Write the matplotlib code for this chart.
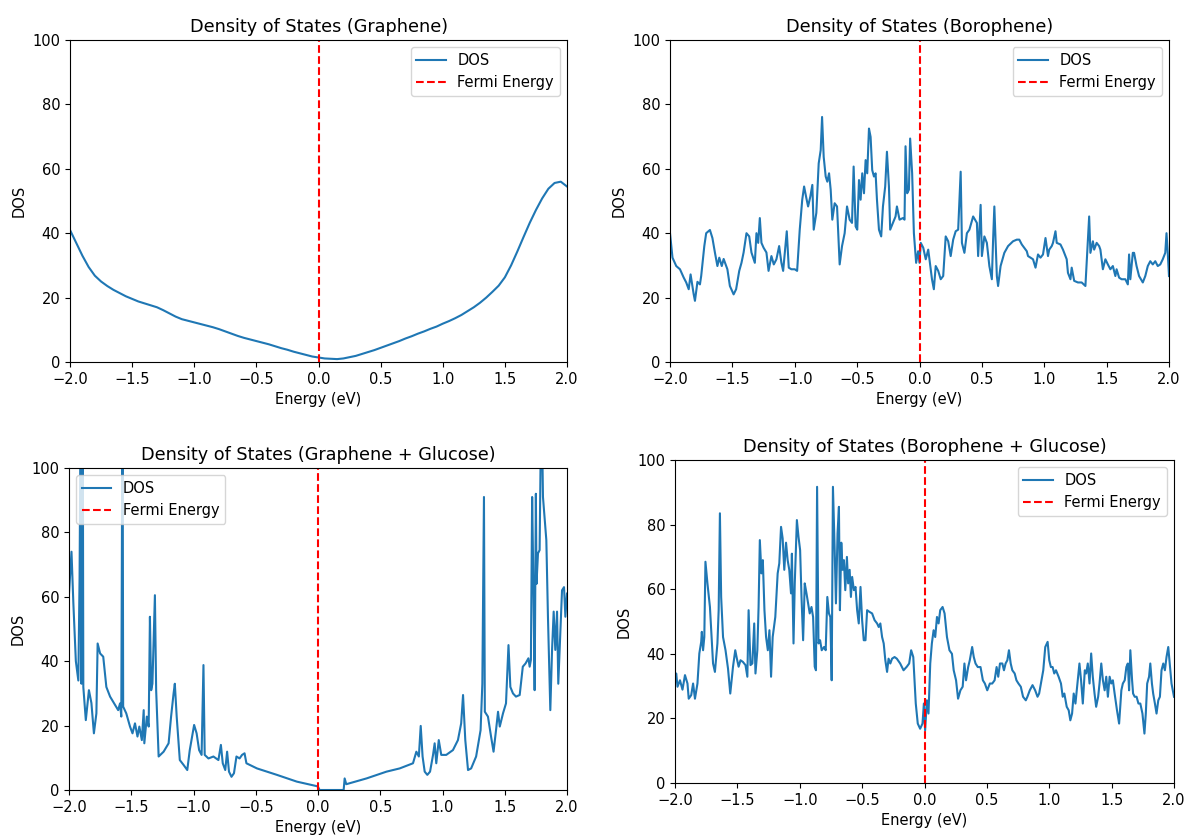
import matplotlib
matplotlib.use('Agg')
from matplotlib import pyplot as plt

# energies (eV) and DOS values
e_gr = [-2.0, -1.95, -1.9, -1.85, -1.8, -1.75, -1.7, -1.65, -1.6, -1.55, -1.5, -1.45, -1.4,
        -1.35, -1.3, -1.25, -1.2, -1.15, -1.1, -1.05, -1.0, -0.95, -0.9, -0.85, -0.8, -0.75,
        -0.7, -0.65, -0.6, -0.55, -0.5, -0.45, -0.4, -0.35, -0.3, -0.25, -0.2, -0.15, -0.1,
        -0.05, 0.0, 0.05, 0.1, 0.15, 0.2, 0.25, 0.3, 0.35, 0.4, 0.45, 0.5, 0.55, 0.6, 0.65,
        0.7, 0.75, 0.8, 0.85, 0.9, 0.95, 1.0, 1.05, 1.1, 1.15, 1.2, 1.25, 1.3, 1.35, 1.4,
        1.45, 1.5, 1.55, 1.6, 1.65, 1.7, 1.75, 1.8, 1.85, 1.9, 1.95, 2.0]
dos_gr = [41.0, 37.0, 33.0, 29.5, 26.8, 25.0, 23.6, 22.4, 21.4, 20.4, 19.6, 18.8, 18.2,
          17.6, 17.0, 16.1, 15.1, 14.1, 13.3, 12.8, 12.3, 11.8, 11.3, 10.8, 10.2, 9.5,
          8.8, 8.1, 7.5, 7.0, 6.5, 6.0, 5.5, 4.9, 4.3, 3.8, 3.2, 2.7, 2.2, 1.7,
          1.4, 1.1, 1.0, 0.9, 1.1, 1.5, 1.9, 2.5, 3.1, 3.7, 4.4, 5.1, 5.8, 6.5,
          7.3, 8.0, 8.8, 9.5, 10.3, 11.0, 11.9, 12.7, 13.6, 14.6, 15.8, 17.0, 18.4, 20.0, 21.8,
          23.7, 26.3, 30.0, 34.3, 38.8, 43.2, 47.2, 50.8, 53.8, 55.6, 56.0, 54.5]

e_bo = [-2.0, -1.98, -1.95, -1.92, -1.89, -1.87, -1.85, -1.835, -1.81, -1.8, -1.78, -1.76,
        -1.75, -1.725, -1.71, -1.68, -1.66, -1.64, -1.62, -1.605, -1.585, -1.57, -1.54,
        -1.52, -1.49, -1.47, -1.445, -1.427, -1.41, -1.387, -1.365, -1.347, -1.32, -1.307,
        -1.293, -1.28, -1.267, -1.25, -1.227, -1.21, -1.187, -1.168, -1.147, -1.125, -1.107,
        -1.093, -1.075, -1.064, -1.048, -1.027, -1.0, -0.981, -0.96, -0.94, -0.925, -0.907,
        -0.893, -0.875, -0.859, -0.848, -0.827, -0.808, -0.792, -0.781, -0.768, -0.752,
        -0.739, -0.725, -0.712, -0.699, -0.68, -0.661, -0.64, -0.621, -0.6, -0.581, -0.56,
        -0.541, -0.528, -0.512, -0.499, -0.485, -0.472, -0.459, -0.445, -0.432, -0.419,
        -0.405, -0.392, -0.379, -0.365, -0.352, -0.341, -0.325, -0.307, -0.293, -0.275,
        -0.261, -0.245, -0.235, -0.213, -0.192, -0.181, -0.16, -0.133, -0.12, -0.112,
        -0.099, -0.085, -0.075, -0.059, -0.045, -0.027, -0.011, 0.0, 0.01, 0.03, 0.05,
        0.07, 0.09, 0.10, 0.115, 0.13, 0.15, 0.17, 0.19, 0.21, 0.23, 0.25, 0.27, 0.29,
        0.31, 0.33, 0.34, 0.36, 0.38, 0.40, 0.43, 0.46, 0.47, 0.49, 0.50, 0.52, 0.54,
        0.56, 0.58, 0.59, 0.60, 0.62, 0.63, 0.65, 0.68, 0.71, 0.75, 0.78, 0.80, 0.82,
        0.86, 0.87, 0.91, 0.93, 0.95, 0.97, 0.99, 1.01, 1.03, 1.04, 1.06, 1.07, 1.09,
        1.10, 1.13, 1.15, 1.18, 1.19, 1.21, 1.22, 1.24, 1.27, 1.30, 1.33, 1.34, 1.36,
        1.37, 1.39, 1.40, 1.42, 1.44, 1.45, 1.47, 1.49, 1.51, 1.53, 1.55, 1.57, 1.58,
        1.60, 1.62, 1.65, 1.67, 1.68, 1.69, 1.71, 1.72, 1.74, 1.76, 1.79, 1.81, 1.83,
        1.85, 1.87, 1.89, 1.91, 1.93, 1.95, 1.97, 1.98, 1.99, 2.0]
dos_bo = [40.0, 32.4, 29.8, 28.8, 26.2, 24.7, 22.6, 27.2, 21.0, 19.0, 24.9, 24.1,
          26.7, 36.0, 40.0, 41.0, 38.5, 34.0, 29.8, 32.4, 29.8, 32.0, 28.8,
          23.6, 21.0, 22.6, 28.3, 30.8, 34.0, 40.0, 39.0, 34.0, 30.8, 40.0,
          37.0, 44.7, 37.0, 35.5, 34.0, 28.3, 32.9, 30.3, 31.9, 36.0, 30.8,
          28.3, 36.0, 40.6, 29.3, 28.8, 28.8, 28.3, 41.1, 50.4, 54.5, 50.9,
          48.3, 51.4, 55.0, 41.1, 46.3, 61.7, 65.8, 76.1, 63.7, 57.6,
          56.0, 58.6, 53.5, 44.2, 49.3, 48.3, 30.3, 36.0, 40.0, 48.3, 44.2,
          43.2, 60.7, 42.1, 41.1, 56.5, 50.4, 58.6, 52.4, 62.7, 58.6,
          72.5, 69.9, 59.6, 57.6, 58.6, 50.4, 41.1, 39.0, 48.3, 54.5,
          65.3, 54.5, 41.1, 43.2, 45.2, 48.3, 44.2, 44.7, 44.2, 67.0,
          52.4, 53.5, 69.4, 58.6, 40.0, 30.8, 34.4, 30.8, 37.0, 35.5, 31.9,
          34.9, 28.8, 25.7, 22.6, 29.8, 28.3, 25.7, 26.7, 39.0, 37.5, 32.9, 38.0, 40.6,
          41.1, 59.1, 37.0, 33.9, 40.0, 41.1, 45.2, 43.2, 32.9, 48.8, 32.9, 39.0, 37.0,
          29.8, 25.7, 38.0, 48.3, 26.7, 23.6, 29.8, 33.9, 36.0, 37.5, 38.0, 38.0, 36.5,
          34.4, 32.9, 31.9, 29.3, 33.4, 32.4, 33.4, 38.5, 32.9, 34.9, 36.0, 37.0, 40.6,
          37.0, 36.5, 34.9, 31.9, 27.7, 25.7, 29.3, 25.2, 24.7, 24.7, 23.6, 30.8, 45.2,
          33.9, 37.5, 34.9, 37.0, 36.0, 34.9, 28.8, 31.9, 30.3, 28.8, 29.8, 26.7, 28.8,
          26.2, 25.7, 25.7, 24.1, 33.4, 25.7, 33.9, 33.9, 29.8, 26.7, 24.7, 26.7, 29.8,
          31.3, 30.3, 31.3, 29.8, 30.3, 31.9, 33.9, 40.0, 33.9, 26.7]

e_grg = [-2.0, -1.98, -1.965, -1.945, -1.925, -1.915, -1.905, -1.90, -1.89, -1.885,
         -1.865, -1.84, -1.82, -1.80, -1.78, -1.77, -1.75, -1.725, -1.70, -1.67, -1.63,
         -1.605, -1.59, -1.58, -1.57, -1.565, -1.54, -1.51, -1.49, -1.47, -1.45, -1.435,
         -1.415, -1.40, -1.395, -1.375, -1.36, -1.35, -1.34, -1.33, -1.31, -1.30, -1.28,
         -1.24, -1.20, -1.18, -1.16, -1.15, -1.135, -1.11, -1.08, -1.05, -1.03, -0.995,
         -0.975, -0.955, -0.935, -0.92, -0.91, -0.88, -0.84, -0.80, -0.78, -0.765, -0.745,
         -0.73, -0.715, -0.695, -0.675, -0.655, -0.63, -0.61, -0.59, -0.575, -0.49, -0.33,
         -0.17, -0.01, 0.0, 0.013, 0.206, 0.214, 0.227, 0.39, 0.55, 0.656, 0.763, 0.79,
         0.81, 0.825, 0.84, 0.857, 0.878, 0.90, 0.924, 0.937, 0.95, 0.97, 0.99, 1.03,
         1.084, 1.124, 1.15, 1.165, 1.183, 1.205, 1.23, 1.27, 1.306, 1.32, 1.333, 1.34,
         1.365, 1.39, 1.41, 1.43, 1.446, 1.46, 1.486, 1.51, 1.53, 1.545, 1.566, 1.59,
         1.62, 1.645, 1.667, 1.69, 1.70, 1.71, 1.72, 1.73, 1.74, 1.75, 1.755, 1.767,
         1.78, 1.79, 1.80, 1.807, 1.826, 1.834, 1.847, 1.866, 1.88, 1.893, 1.906, 1.92,
         1.93, 1.946, 1.96, 1.976, 1.987, 2.0]
dos_grg = [61.0, 74.0, 58.0, 40.0, 34.0, 66.0, 130.0, 33.0, 130.0, 32.0,
           21.7, 31.0, 27.0, 17.6, 23.8, 45.5, 42.4, 41.4, 32.0, 29.0, 26.4,
           24.8, 26.9, 22.8, 130.0, 25.9, 23.8, 19.7, 17.6, 20.7, 16.6, 19.7,
           15.5, 24.8, 14.5, 22.8, 19.7, 53.8, 31.0, 33.0, 60.5, 31.0, 10.4,
           11.9, 14.5, 22.8, 30.0, 33.0, 22.8, 9.3, 7.8, 6.2, 12.4, 20.2,
           17.6, 12.4, 10.9, 38.8, 10.9, 9.8, 10.4, 9.3, 14.0, 8.3, 6.2,
           11.9, 5.7, 4.1, 5.2, 10.4, 9.8, 10.9, 11.4, 8.3, 6.7, 4.7,
           2.6, 1.2, 1.0, 0.0, 0.0, 3.6, 1.8, 3.6, 5.7, 6.7, 8.3, 11.9,
           10.4, 19.9, 10.4, 5.7, 4.7, 5.7, 10.9, 14.5, 8.3, 15.5, 10.9, 10.9,
           12.4, 15.5, 20.7, 29.5, 15.5, 6.2, 6.7, 10.4, 18.6, 33.0, 91.0, 24.3,
           22.8, 16.6, 11.9, 18.6, 24.3, 19.7, 23.8, 26.9, 45.0, 32.0, 30.0, 29.0,
           29.5, 38.3, 39.3, 40.9, 38.3, 40.4, 91.0, 64.0, 31.0, 92.0, 64.0, 73.5,
           74.5, 110.0, 110.0, 91.0, 81.8, 77.6, 53.8, 24.8, 43.5, 55.4, 43.5, 55.4,
           33.0, 48.7, 62.0, 63.0, 53.8, 61.0]

e_bog = [-2.0, -1.99, -1.98, -1.96, -1.94, -1.92, -1.90, -1.89, -1.87, -1.855, -1.84,
         -1.82, -1.805, -1.79, -1.785, -1.775, -1.765, -1.756, -1.74, -1.72, -1.71,
         -1.695, -1.68, -1.66, -1.65, -1.64, -1.63, -1.615, -1.595, -1.575, -1.557,
         -1.535, -1.517, -1.504, -1.49, -1.475, -1.456, -1.435, -1.42, -1.41, -1.395,
         -1.38, -1.365, -1.355, -1.34, -1.33, -1.32, -1.307, -1.296, -1.283, -1.27,
         -1.256, -1.243, -1.23, -1.217, -1.196, -1.177, -1.164, -1.15, -1.137, -1.124,
         -1.11, -1.097, -1.084, -1.07, -1.063, -1.05, -1.04, -1.023, -1.01, -0.997,
         -0.986, -0.973, -0.96, -0.946, -0.933, -0.92, -0.906, -0.893, -0.88, -0.87,
         -0.861, -0.85, -0.837, -0.824, -0.805, -0.792, -0.779, -0.766, -0.755, -0.744,
         -0.734, -0.72, -0.71, -0.697, -0.686, -0.678, -0.667, -0.657, -0.646, -0.635,
         -0.622, -0.612, -0.60, -0.59, -0.58, -0.566, -0.553, -0.54, -0.527, -0.513,
         -0.50, -0.487, -0.473, -0.46, -0.442, -0.42, -0.40, -0.38, -0.367, -0.354,
         -0.34, -0.327, -0.314, -0.30, -0.288, -0.274, -0.26, -0.24, -0.222, -0.195,
         -0.168, -0.142, -0.123, -0.107, -0.09, -0.07, -0.054, -0.035, -0.016, -0.005,
         0.005, 0.019, 0.032, 0.046, 0.059, 0.073, 0.086, 0.10, 0.113, 0.126, 0.145,
         0.161, 0.18, 0.20, 0.22, 0.234, 0.253, 0.269, 0.288, 0.306, 0.32, 0.333, 0.35,
         0.363, 0.382, 0.395, 0.409, 0.427, 0.449, 0.468, 0.484, 0.503, 0.524, 0.543,
         0.562, 0.578, 0.591, 0.605, 0.624, 0.637, 0.65, 0.664, 0.677, 0.691, 0.704,
         0.723, 0.737, 0.753, 0.772, 0.79, 0.812, 0.825, 0.844, 0.866, 0.887, 0.906,
         0.919, 0.933, 0.952, 0.968, 0.987, 1.0, 1.013, 1.027, 1.04, 1.054, 1.075,
         1.094, 1.108, 1.121, 1.14, 1.156, 1.169, 1.183, 1.196, 1.21, 1.226, 1.242,
         1.255, 1.269, 1.285, 1.296, 1.309, 1.323, 1.336, 1.349, 1.363, 1.376, 1.392,
         1.403, 1.417, 1.43, 1.444, 1.457, 1.47, 1.484, 1.497, 1.51, 1.524, 1.543,
         1.56, 1.578, 1.59, 1.605, 1.618, 1.63, 1.64, 1.65, 1.664, 1.672, 1.685, 1.70,
         1.715, 1.73, 1.747, 1.763, 1.774, 1.785, 1.80, 1.81, 1.823, 1.833, 1.847,
         1.86, 1.874, 1.887, 1.90, 1.914, 1.927, 1.94, 1.954, 1.968, 1.98, 2.0]
dos_bog = [33.0, 33.9, 29.8, 31.8, 28.9, 33.4, 30.8, 26.1, 27.2, 30.8, 26.1,
           30.8, 40.1, 43.7, 46.8, 41.1, 45.2, 68.5, 61.8, 54.5, 47.3,
           37.0, 34.4, 43.2, 53.5, 83.5, 57.6, 45.2, 41.1, 35.4, 27.7,
           36.0, 41.1, 38.5, 36.0, 38.0, 37.5, 36.5, 32.9, 53.5, 36.5,
           37.0, 49.4, 33.9, 41.1, 54.5, 75.2, 64.9, 69.0, 53.5, 45.2,
           41.1, 47.3, 32.9, 45.2, 51.4, 64.9, 68.0, 79.3, 75.7, 66.0,
           74.4, 69.0, 66.0, 58.7, 71.0, 43.2, 61.8, 81.4, 76.2, 72.1,
           57.6, 44.2, 61.8, 58.7, 55.6, 52.5, 54.5, 51.4, 36.0, 34.9,
           91.7, 43.2, 44.2, 41.1, 42.1, 41.1, 57.6, 52.5, 51.4, 31.8,
           91.7, 72.1, 55.6, 77.3, 85.5, 53.5, 74.4, 66.0, 69.0, 59.7,
           70.0, 61.8, 66.0, 57.6, 63.8, 59.7, 60.7, 53.5, 49.4, 60.7,
           50.4, 44.2, 44.2, 53.5, 53.0, 52.5, 50.4, 49.4, 48.3, 49.4,
           45.2, 43.2, 38.0, 34.4, 38.5, 37.0, 38.5, 39.0, 38.5, 37.0,
           34.9, 36.0, 37.0, 41.1, 39.0, 24.6, 18.4, 16.8, 18.4, 24.6,
           16.3, 25.6, 21.5, 37.0, 43.2, 47.3, 45.2, 51.4, 49.4, 53.5, 54.5,
           52.5, 45.2, 41.1, 40.0, 34.9, 31.8, 26.1, 28.7, 29.8, 37.0, 31.8, 35.9,
           38.0, 42.1, 39.0, 37.0, 35.9, 35.9, 31.8, 30.8, 28.7, 30.8, 30.8,
           31.8, 35.9, 32.9, 37.0, 37.0, 34.9, 37.0, 38.0, 41.1, 37.0, 34.9,
           33.9, 31.8, 30.8, 29.8, 26.7, 25.6, 26.7, 28.7, 30.3, 28.7, 26.7,
           27.7, 30.8, 34.9, 42.1, 43.7, 38.0, 35.9, 35.9, 33.9, 34.9, 32.9,
           30.8, 26.7, 27.7, 23.6, 22.5, 19.4, 21.5, 27.7, 24.6, 30.8, 37.0,
           31.8, 24.6, 34.9, 33.9, 37.0, 30.8, 40.1, 32.9, 27.7, 23.6, 26.7,
           30.8, 37.0, 31.8, 28.7, 32.9, 26.7, 32.9, 30.8, 31.8, 27.7, 22.5,
           18.4, 28.7, 30.8, 31.8, 35.9, 37.0, 28.7, 41.1, 31.8, 27.7, 26.7, 26.7,
           24.6, 24.6, 21.5, 15.3, 21.5, 30.8, 32.9, 37.0, 30.8, 27.7, 24.6,
           21.5, 25.6, 26.7, 34.9, 37.0, 34.9, 39.0, 42.1, 35.9, 30.8, 26.7]

titles = ['Density of States (Graphene)', 'Density of States (Borophene)',
          'Density of States (Graphene + Glucose)', 'Density of States (Borophene + Glucose)']
energies = [e_gr, e_bo, e_grg, e_bog]
values = [dos_gr, dos_bo, dos_grg, dos_bog]
legend_loc = ['upper right', 'upper right', 'upper left', 'upper right']
# axes boxes in figure fractions (left, bottom, width, height)
W, H = 1189.0, 839.0
boxes = [(70 / W, 1 - 362 / H, 497 / W, 322 / H),
         (670 / W, 1 - 362 / H, 499 / W, 322 / H),
         (69 / W, 1 - 790 / H, 498 / W, 322 / H),
         (675 / W, 1 - 783 / H, 499 / W, 323 / H)]

fig = plt.figure(figsize=(11.89, 8.39), dpi=100)
for i in range(4):
    ax = fig.add_axes(boxes[i])
    ax.plot(energies[i], values[i], label='DOS', color='#1f77b4', linewidth=1.5)
    ax.axvline(0, color='r', linestyle='--', label='Fermi Energy', linewidth=1.5)
    ax.set_xlim(-2, 2)
    ax.set_ylim(0, 100)
    ax.set_title(titles[i], fontsize=12.7)
    ax.set_xlabel('Energy (eV)', fontsize=10.5)
    ax.set_ylabel('DOS', fontsize=10.5)
    ax.tick_params(labelsize=10.5)
    ax.legend(loc=legend_loc[i], fontsize=10.5)

fig.savefig('out.png', dpi=100)
